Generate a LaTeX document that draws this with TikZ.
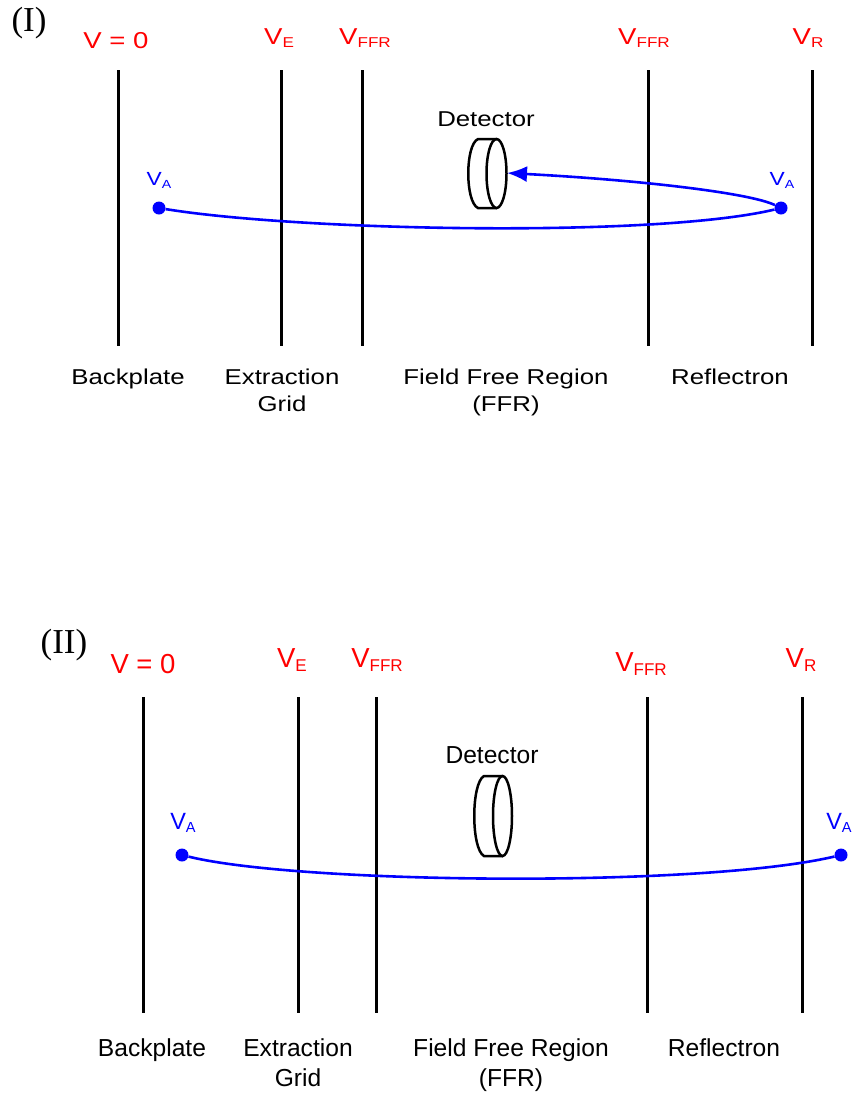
\documentclass[tikz,border=0pt]{standalone}
\usepackage{fontspec}
\setmainfont{Liberation Sans}
\newfontfamily\widefont[FakeStretch=1.2]{Liberation Sans}
\newfontfamily\panelfont{Liberation Serif}
\usetikzlibrary{arrows.meta,positioning,calc}
\newcommand{\volt}[1]{V\raisebox{-0.3ex}{\scalebox{0.62}{#1}}}
\tikzset{
  plate/.style={line width=3pt},
  path/.style={blue,line width=2.6pt},
  ion/.style={circle,fill=blue,inner sep=0pt,minimum size=13pt},
  detector/.style={line width=2.5pt},
  panel/.style={font=\fontsize{35}{35}\selectfont\panelfont},
  upper/.style={font=\fontsize{21.5}{21.5}\selectfont\widefont},
  lower/.style={font=\fontsize{24.6}{24.6}\selectfont},
  uppervolt/.style={red,font=\fontsize{23}{23}\selectfont\widefont},
  lowervolt/.style={red,font=\fontsize{27.5}{27.5}\selectfont},
  upperion/.style={blue,font=\fontsize{19}{19}\selectfont\widefont},
  lowerion/.style={blue,font=\fontsize{23.5}{23.5}\selectfont}
}
\begin{document}
\begin{tikzpicture}[x=1pt,y=-1pt]
  \useasboundingbox (0,0) rectangle (853,1093);
  \node[panel] (panelone) at (29,23) {(I)}; % first panel mark
  \draw[plate] (118,70) -- (118,346); % backplate
  \draw[plate] (281,70) -- (281,346); % extraction grid
  \draw[plate] (362.5,70) -- (362.5,346); % start of field free region
  \draw[plate] (648,70) -- (648,346); % end of field free region
  \draw[plate] (812,70) -- (812,346); % reflectron
  \node[uppervolt] (zeroone) at (116,41) {V = 0};
  \node[uppervolt] (extractone) at (279,38) {\volt{E}};
  \node[uppervolt] (ffrone) at (365,38) {\volt{FFR}};
  \node[uppervolt] (ffrtwo) at (644,38) {\volt{FFR}};
  \node[uppervolt] (reflone) at (808,38) {\volt{R}};
  \node[upper,anchor=base] (backone) at (128,384) {Backplate};
  \node[upper,align=center,anchor=north] (gridone) at (282,365) {Extraction\\[6pt]Grid};
  \node[upper,align=center,anchor=north] (regionone) at (506,365) {Field Free Region\\[6pt](FFR)};
  \node[upper,anchor=base] (mirrorone) at (730,384) {Reflectron};
  \node[upper] (detone) at (486,119) {Detector};
  \draw[detector] (496.5,173.5) ellipse (10 and 34.5); % detector front face
  \draw[detector] (497,139) -- (478,139) .. controls (465,145) and (465,202) .. (478,208) -- (497,208); % detector rim
  \node[ion] (startone) at (159,208) {};
  \node[ion] (turnone) at (781,208) {};
  \coordinate (endone) at (507,173);
  \node[upperion] (vaone) at (159,180) {\volt{A}};
  \node[upperion] (vatwo) at (782,180) {\volt{A}};
  \draw[path] (startone) .. controls (300,231) and (655,238) .. (turnone); % outgoing ion path
  \draw[path,-{Latex[length=20pt,width=16pt]}] (turnone) .. controls (750,193) and (640,180) .. (endone); % reflected ion path

  \node[panel] (paneltwo) at (64,645) {(II)}; % second panel mark
  \draw[plate] (143,697) -- (143,1013); % backplate
  \draw[plate] (298,697) -- (298,1013); % extraction grid
  \draw[plate] (376,697) -- (376,1013); % start of field free region
  \draw[plate] (647,697) -- (647,1013); % end of field free region
  \draw[plate] (802,697) -- (802,1013); % reflectron
  \node[lowervolt] (zerotwo) at (143,664) {V = 0};
  \node[lowervolt] (extracttwo) at (292,660) {\volt{E}};
  \node[lowervolt] (ffrthree) at (377,660) {\volt{FFR}};
  \node[lowervolt] (ffrfour) at (641,664) {\volt{FFR}};
  \node[lowervolt] (refltwo) at (801,660) {\volt{R}};
  \node[lower,anchor=base] (backtwo) at (152,1056) {Backplate};
  \node[lower,align=center,anchor=north] (gridtwo) at (298,1035) {Extraction\\[6pt]Grid};
  \node[lower,align=center,anchor=north] (regiontwo) at (511,1035) {Field Free Region\\[6pt](FFR)};
  \node[lower,anchor=base] (mirrortwo) at (724,1056) {Reflectron};
  \node[lower] (dettwo) at (492,755) {Detector};
  \draw[detector] (502.5,816) ellipse (9.5 and 40); % detector front face
  \draw[detector] (503,776) -- (484,776) .. controls (471,783) and (471,849) .. (484,856) -- (503,856); % detector rim
  \node[ion] (starttwo) at (182,855) {};
  \node[ion] (turntwo) at (841,855) {};
  \node[lowerion] (vathree) at (183,823) {\volt{A}};
  \node[lowerion] (vafour) at (839,823) {\volt{A}};
  \draw[path] (starttwo) .. controls (300,884) and (700,888) .. (turntwo); % ion path without reflection
\end{tikzpicture}
\end{document}
